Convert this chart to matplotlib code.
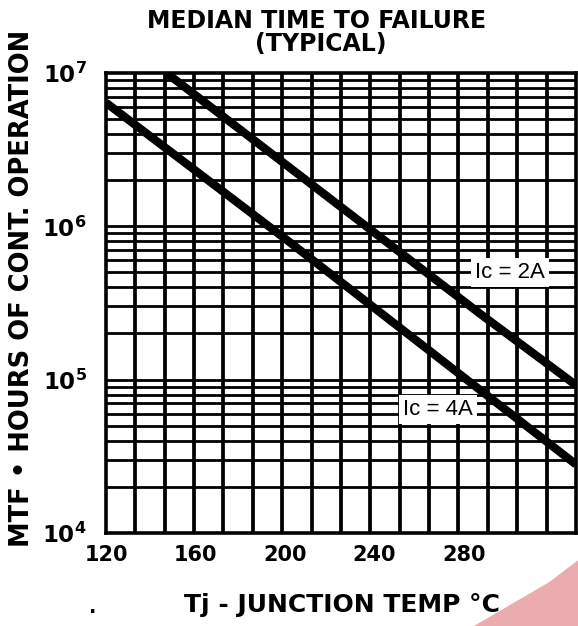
import numpy as np
import matplotlib
matplotlib.use("Agg")
import matplotlib.pyplot as plt
from matplotlib.patches import Polygon

# Values (straight lines on semi-log paper)
tj_2a = [147, 287, 330]
mtf_2a = [1.0e7, 2.7e5, 9.2e4]
tj_4a = [120, 201, 330]
mtf_4a = [6.4e6, 8.1e5, 2.8e4]

x_ticks = [120, 160, 200, 240, 280]
y_ticks = [1e4, 1e5, 1e6, 1e7]
y_tick_labels = [r"$\mathbf{10^{4}}$", r"$\mathbf{10^{5}}$", r"$\mathbf{10^{6}}$", r"$\mathbf{10^{7}}$"]

plt.rcParams['font.family'] = ['DejaVu Sans']
plt.rcParams['mathtext.fontset'] = 'dejavusans'

fig = plt.figure(figsize=(5.78, 6.26), dpi=100)
ax = fig.add_axes([0.1834, 0.1486, 0.8131, 0.7348])

ax.set_yscale('log')
ax.set_xlim(120, 330)
ax.set_ylim(1e4, 1e7)

# hand-drawn style grid: vertical lines every 1/16 of the span, log horizontal lines
for xv in np.linspace(120, 330, 17)[1:-1]:
    ax.axvline(xv, color='black', lw=2.7, zorder=1)
for dec in [1e4, 1e5, 1e6]:
    for k in range(1, 10):
        if dec * k > 1e4:
            ax.axhline(dec * k, color='black', lw=2.0, zorder=1)

ax.plot(tj_2a, mtf_2a, color='black', lw=6, solid_capstyle='butt', zorder=3)
ax.plot(tj_4a, mtf_4a, color='black', lw=6, solid_capstyle='butt', zorder=3)

lbl_font = ['Liberation Sans Narrow', 'Liberation Sans', 'DejaVu Sans']
ax.text(300.5, 5.0e5, "Ic = 2A", family=lbl_font, fontsize=16, ha='center', va='center',
        zorder=4, bbox=dict(facecolor='white', edgecolor='none', pad=3))
ax.text(268.3, 6.4e4, "Ic = 4A", family=lbl_font, fontsize=16, ha='center', va='center',
        zorder=4, bbox=dict(facecolor='white', edgecolor='none', pad=3))

for s in ax.spines.values():
    s.set_linewidth(2.6)

ax.set_xticks(x_ticks)
ax.set_xticklabels([str(t) for t in x_ticks], fontsize=15, fontweight='bold')
ax.set_yticks(y_ticks)
ax.set_yticklabels(y_tick_labels, fontsize=16.5)
ax.yaxis.set_minor_locator(matplotlib.ticker.NullLocator())
ax.tick_params(axis='both', length=0)
ax.tick_params(axis='x', pad=9)
ax.tick_params(axis='y', pad=14)

fig.text(0.547, 0.966, "MEDIAN TIME TO FAILURE", fontsize=17, fontweight='bold', ha='center', va='center')
fig.text(0.555, 0.929, "(TYPICAL)", fontsize=17, fontweight='bold', ha='center', va='center')
fig.text(0.038, 0.54, "MTF • HOURS OF CONT. OPERATION", fontsize=18.5, fontweight='bold',
         rotation=90, ha='center', va='center')
fig.text(0.592, 0.034, "Tj - JUNCTION TEMP °C", fontsize=18, fontweight='bold', ha='center', va='center')
fig.text(0.161, 0.030, ".", fontsize=14, fontweight='bold', ha='center', va='center')

# faint red watermark corner from the scan
fig.patches.append(Polygon([[0.82, 0.0], [0.95, 0.07], [1.0, 0.105], [1.0, 0.0]],
                           closed=True, transform=fig.transFigure, facecolor='#e9a3a6',
                           edgecolor='none', alpha=0.9, zorder=-1))

fig.savefig("out.png", dpi=100)
